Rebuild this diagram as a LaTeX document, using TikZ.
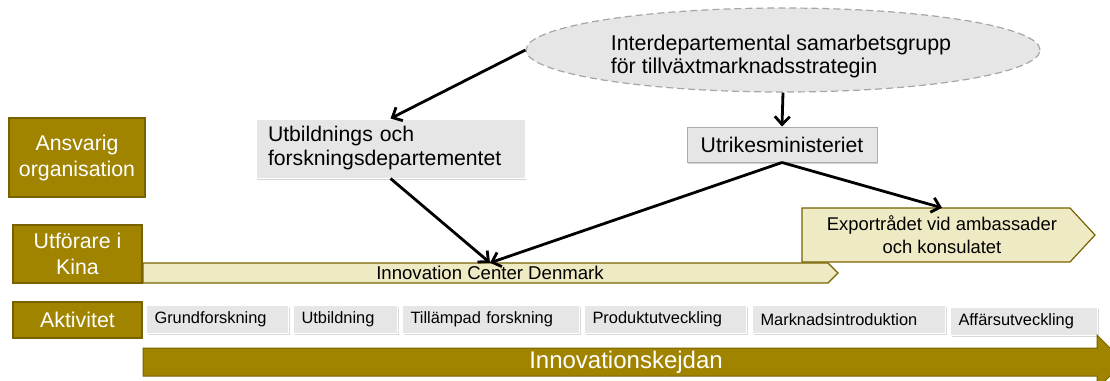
\documentclass[tikz,border=0pt]{standalone}
\usepackage{fontspec}
\setmainfont{Liberation Sans}
\usetikzlibrary{shapes.geometric,shadows,arrows.meta}
\definecolor{kedja}{RGB}{160,132,0}
\definecolor{kedjalinje}{RGB}{120,98,0}
\definecolor{blek}{RGB}{238,234,196}
\definecolor{ljusgra}{RGB}{230,230,230}
\newcommand{\fs}[2]{\fontsize{#1}{#2}\selectfont}

\begin{document}
\begin{tikzpicture}[x=1pt,y=-1pt,
  rubrik/.style={fill=kedja,draw=kedjalinje,line width=1.2pt,text=white,align=center,inner sep=0pt,font=\fs{21.3}{26}},
  dept/.style={fill=ljusgra,draw=white,line width=1pt,drop shadow={opacity=.35,shadow xshift=1pt,shadow yshift=-1.5pt},align=left,inner xsep=12pt,inner ysep=0pt,font=\fs{21.2}{24}},
  akt/.style={fill=ljusgra,draw=white,line width=1pt,drop shadow={opacity=.3,shadow xshift=1pt,shadow yshift=-1.5pt},anchor=north west,align=left,inner xsep=8pt,inner ysep=0pt,minimum height=28pt,font=\fs{16.4}{19}},
  pil/.style={-{Straight Barb[length=8pt,width=15pt]},line width=2.8pt}]
\useasboundingbox (0,0) rectangle (1110,380);

% rubriker till vanster
\node[rubrik,minimum width=136pt,minimum height=79pt] (ansvarig) at (77,157.5) {Ansvarig\\organisation};
\node[rubrik,minimum width=129pt,minimum height=58pt] (utforare) at (77.5,254) {Utförare i\\Kina};
\node[rubrik,minimum width=129pt,minimum height=36pt] (aktivitet) at (77.5,320) {Aktivitet};

% ansvariga organisationer
\node[ellipse,draw=gray!70,dash pattern=on 7pt off 4pt,line width=1.2pt,fill=ljusgra,minimum width=514pt,minimum height=84pt] (grupp) at (783,50) {};
\node[align=left,inner sep=0pt,font=\fs{21.4}{23}] (grupptext) at (781,56) {Interdepartemental samarbetsgrupp\\för tillväxtmarknadsstrategin};
\node[dept,text width=245pt,minimum height=59pt] (utbdep) at (390.5,148.5) {Utbildnings och\\forskningsdepartementet};
\node[dept,draw=gray!65,drop shadow={opacity=0},minimum width=190pt,minimum height=35pt,inner xsep=0pt] (utrikes) at (782,144.5) {Utrikesministeriet};

% utforare
\draw[fill=blek,draw=kedjalinje,line width=1.2pt] (802,208) -- (1070,208) -- (1095,235) -- (1070,262) -- (802,262) -- cycle;
\node[align=center,inner sep=0pt,minimum height=54pt,font=\fs{18.4}{23}] (export) at (942,235) {Exportrådet vid ambassader\\och konsulatet};
\draw[fill=blek,draw=kedjalinje,line width=1.2pt] (143,263) -- (828,263) -- (838,273) -- (828,283) -- (143,283) -- cycle;
\node[inner sep=0pt,minimum height=20pt,font=\fs{18.6}{20}] (icd) at (490,273) {Innovation Center Denmark};

% aktiviteter
\foreach \i/\xa/\xb/\ya/\t in {1/146/288/305/Grundforskning,2/293/397/305/Utbildning,3/402/579/305/Tillämpad forskning,4/584/746/305/Produktutveckling,5/752/945/305/Marknadsintroduktion,6/950/1097/307/Affärsutveckling}
  \node[akt,text width={(\xb-\xa-16)*1pt}] (akt\i) at (\xa,\ya) {\t};

% innovationskedjan
\draw[fill=kedja,draw=kedjalinje,line width=1pt] (143,348) -- (1097,348) -- (1097,335) -- (1124,362) -- (1097,389) -- (1097,376) -- (143,376) -- cycle;
\node[text=white,inner sep=0pt,font=\fs{24}{28}] (kedjan) at (626,362) {Innovationskejdan};

% pilar
\draw[pil] (grupp.west) -- (utbdep.north);
\draw[pil] (grupp.south) -- (utrikes.north);
\draw[pil] (utbdep.south) -- (icd.north);
\draw[pil] (utrikes.south) -- (icd.north);
\draw[pil] (utrikes.south) -- (export.north);
\end{tikzpicture}
\end{document}
